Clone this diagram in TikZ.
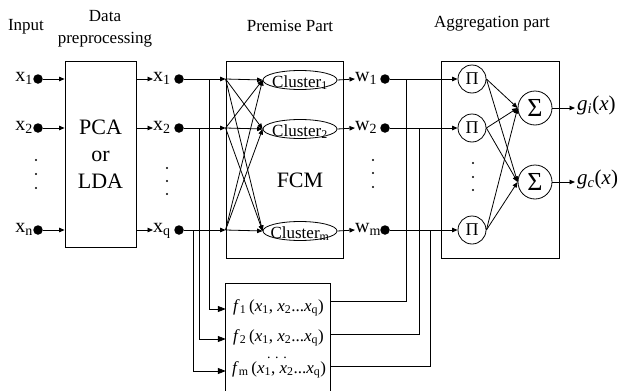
\documentclass[tikz,border=0pt]{standalone}
\usepackage{fontspec}
\setmainfont{Liberation Serif}
\usetikzlibrary{shapes.geometric,arrows.meta}
\tikzset{
 lbl/.style={font=\fontsize{17}{20}\selectfont, inner sep=0, anchor=base},
 var/.style={font=\fontsize{20}{22}\selectfont, inner sep=0},
 dotn/.style={circle, fill=black, inner sep=0, minimum size=9.5pt},
 sdot/.style={circle, fill=black, inner sep=0, minimum size=2.4pt},
 box/.style={draw, line width=0.8pt, inner sep=0},
 wire/.style={line width=0.8pt},
 arr/.style={wire, -{Triangle[length=5.5pt,width=4.5pt]}},
 bigarr/.style={wire, -{Triangle[length=8pt,width=6pt]}},
 clus/.style={draw, ellipse, line width=0.8pt, minimum width=74pt, minimum height=19pt, inner sep=0},
 clt/.style={font=\fontsize{17}{17}\selectfont, inner sep=0, anchor=base, yshift=-7pt},
 pin/.style={draw, circle, line width=0.8pt, minimum size=28pt, inner sep=0, font=\fontsize{18}{18}\selectfont},
 sig/.style={draw, circle, line width=0.8pt, minimum size=34pt, inner sep=0, font=\fontsize{26}{26}\selectfont},
 ftxt/.style={font=\fontsize{17}{18}\selectfont, inner sep=0, anchor=mid west},
}
\begin{document}
\begin{tikzpicture}[x=1pt,y=-1pt]
\useasboundingbox (0,0) rectangle (619,391);
% titles
\node (tin) [lbl] at (26,30) {Input};
\node (tdp1) [lbl] at (105,21) {Data};
\node (tdp2) [lbl] at (105,43) {preprocessing};
\node (tpp) [lbl] at (290,31) {Premise Part};
\node (tap) [lbl] at (492,27) {Aggregation part};
% preprocessing box
\node (pre) [box, minimum width=71pt, minimum height=186pt, align=center,
  font=\fontsize{22}{27}\selectfont] at (100.5,154) {PCA\\or\\LDA};
% inputs
\foreach \n/\s/\y in {1/1/79, 2/2/128, 3/n/230}{
  \node (il\n) [var, anchor=mid east] at (33,\y) {x\textsubscript{\s}};
  \node (id\n) [dotn] at (38,\y) {};
  \draw[arr] (id\n) -- (id\n -| pre.west);
}
\foreach \n/\y in {1/160, 2/174, 3/188}{\node (ivd\n) [sdot] at (36,\y) {};}
% preprocessing outputs
\foreach \n/\s/\y in {1/1/79, 2/2/128, 3/q/230}{
  \node (ol\n) [var, anchor=mid west] at (153,\y) {x\textsubscript{\s}};
  \node (od\n) [dotn] at (179,\y) {};
  \draw[arr] (pre.east |- ol\n.mid west) -- (ol\n.mid west);
}
\foreach \n/\y in {1/168, 2/181, 3/194}{\node (ovd\n) [sdot] at (167,\y) {};}
% FCM box
\node (fcm) [box, minimum width=117pt, minimum height=197pt] at (284.5,159.5) {};
\node (fcmt) [font=\fontsize{22}{24}\selectfont, inner sep=0] at (300,180) {FCM};
\node (c1) [clus] at (300,80) {};
\node (c2) [clus] at (300,129) {};
\node (c3) [clus] at (300,231) {};
\node (c1t) [clt] at (c1) {Cluster\textsubscript{1}};
\node (c2t) [clt] at (c2) {Cluster\textsubscript{2}};
\node (c3t) [clt] at (c3) {Cluster\textsubscript{m}};
\foreach \n in {1,2,3}{
  \coordinate (fi\n) at (od\n -| fcm.west);
  \draw[arr] (od\n) -- (fi\n);
}
\foreach \i in {1,2,3}{\foreach \j in {1,2,3}{\draw[arr] (fi\i) -- (c\j.west);}}
% cluster outputs
\foreach \n/\s/\y in {1/1/79, 2/2/128, 3/m/230}{
  \node (wl\n) [var, anchor=mid west] at (355,\y) {w\textsubscript{\s}};
  \node (wd\n) [dotn] at (385,\y) {};
  \draw[arr] (c\n.east) -- (wl\n.mid west);
}
\foreach \n/\y in {1/160, 2/173, 3/187}{\node (wvd\n) [sdot] at (373,\y) {};}
% aggregation box
\node (agg) [box, minimum width=118pt, minimum height=197pt] at (500,159.5) {};
\node (p1) [pin] at (472,79) {Π};
\node (p2) [pin] at (472,128) {Π};
\node (p3) [pin] at (472,230) {Π};
\node (s1) [sig] at (535,108) {Σ};
\node (s2) [sig] at (535,182) {Σ};
\foreach \n/\y in {1/163, 2/177, 3/190}{\node (avd\n) [sdot] at (473,\y) {};}
\foreach \n in {1,2,3}{\draw[arr] (wd\n) -- (p\n);}
\foreach \p in {p1,p2,p3}{\foreach \s in {s1,s2}{\draw[arr] (\p.east) -- (\s.west);}}
\node (g1) [var, font=\fontsize{21}{22}\selectfont, anchor=mid west] at (577,108) {\textit{g}\textsubscript{\textit{i}}(\textit{x})};
\node (g2) [var, font=\fontsize{21}{22}\selectfont, anchor=mid west] at (577,182) {\textit{g}\textsubscript{\textit{c}}(\textit{x})};
\draw[arr] (s1.east) -- ([xshift=-2pt]g1.mid west);
\draw[arr] (s2.east) -- ([xshift=-2pt]g2.mid west);
% f box
\node (fb) [inner sep=0, minimum width=104pt, minimum height=107pt] at (278,337.5) {};
\draw[wire] (fb.south west) |- (fb.north east) -- (fb.south east);
\node (f1t) [ftxt] at (233,309) {\textit{f}\textsubscript{1}\,(\textit{x}\textsubscript{1}, \textit{x}\textsubscript{2}...\textit{x}\textsubscript{q})};
\node (f2t) [ftxt] at (233,339) {\textit{f}\textsubscript{2}\,(\textit{x}\textsubscript{1}, \textit{x}\textsubscript{2}...\textit{x}\textsubscript{q})};
\node (f3t) [ftxt] at (232,371) {\textit{f}\textsubscript{m}\,(\textit{x}\textsubscript{1}, \textit{x}\textsubscript{2}...\textit{x}\textsubscript{q})};
\node (fdots) [font=\fontsize{14}{14}\selectfont, inner sep=0, anchor=base] at (277,358) {. . .};
% branches to f box
\coordinate (b1) at (209,79);
\coordinate (b2) at (199,128);
\coordinate (b3) at (193,230);
\draw[bigarr] (b1) |- (fb.west |- f1t.mid west);
\draw[bigarr] (b2) |- (fb.west |- f2t.mid west);
\draw[bigarr] (b3) |- (fb.west |- f3t.mid west);
% f outputs to w lines
\coordinate (fo1) at (330,301);
\coordinate (fo2) at (330,334);
\coordinate (fo3) at (330,366);
\coordinate (j1) at (406,79);
\coordinate (j2) at (419,128);
\coordinate (j3) at (430,230);
\draw[wire] (fo1) -| (j1);
\draw[wire] (fo2) -| (j2);
\draw[wire] (fo3) -| (j3);
\end{tikzpicture}
\end{document}
